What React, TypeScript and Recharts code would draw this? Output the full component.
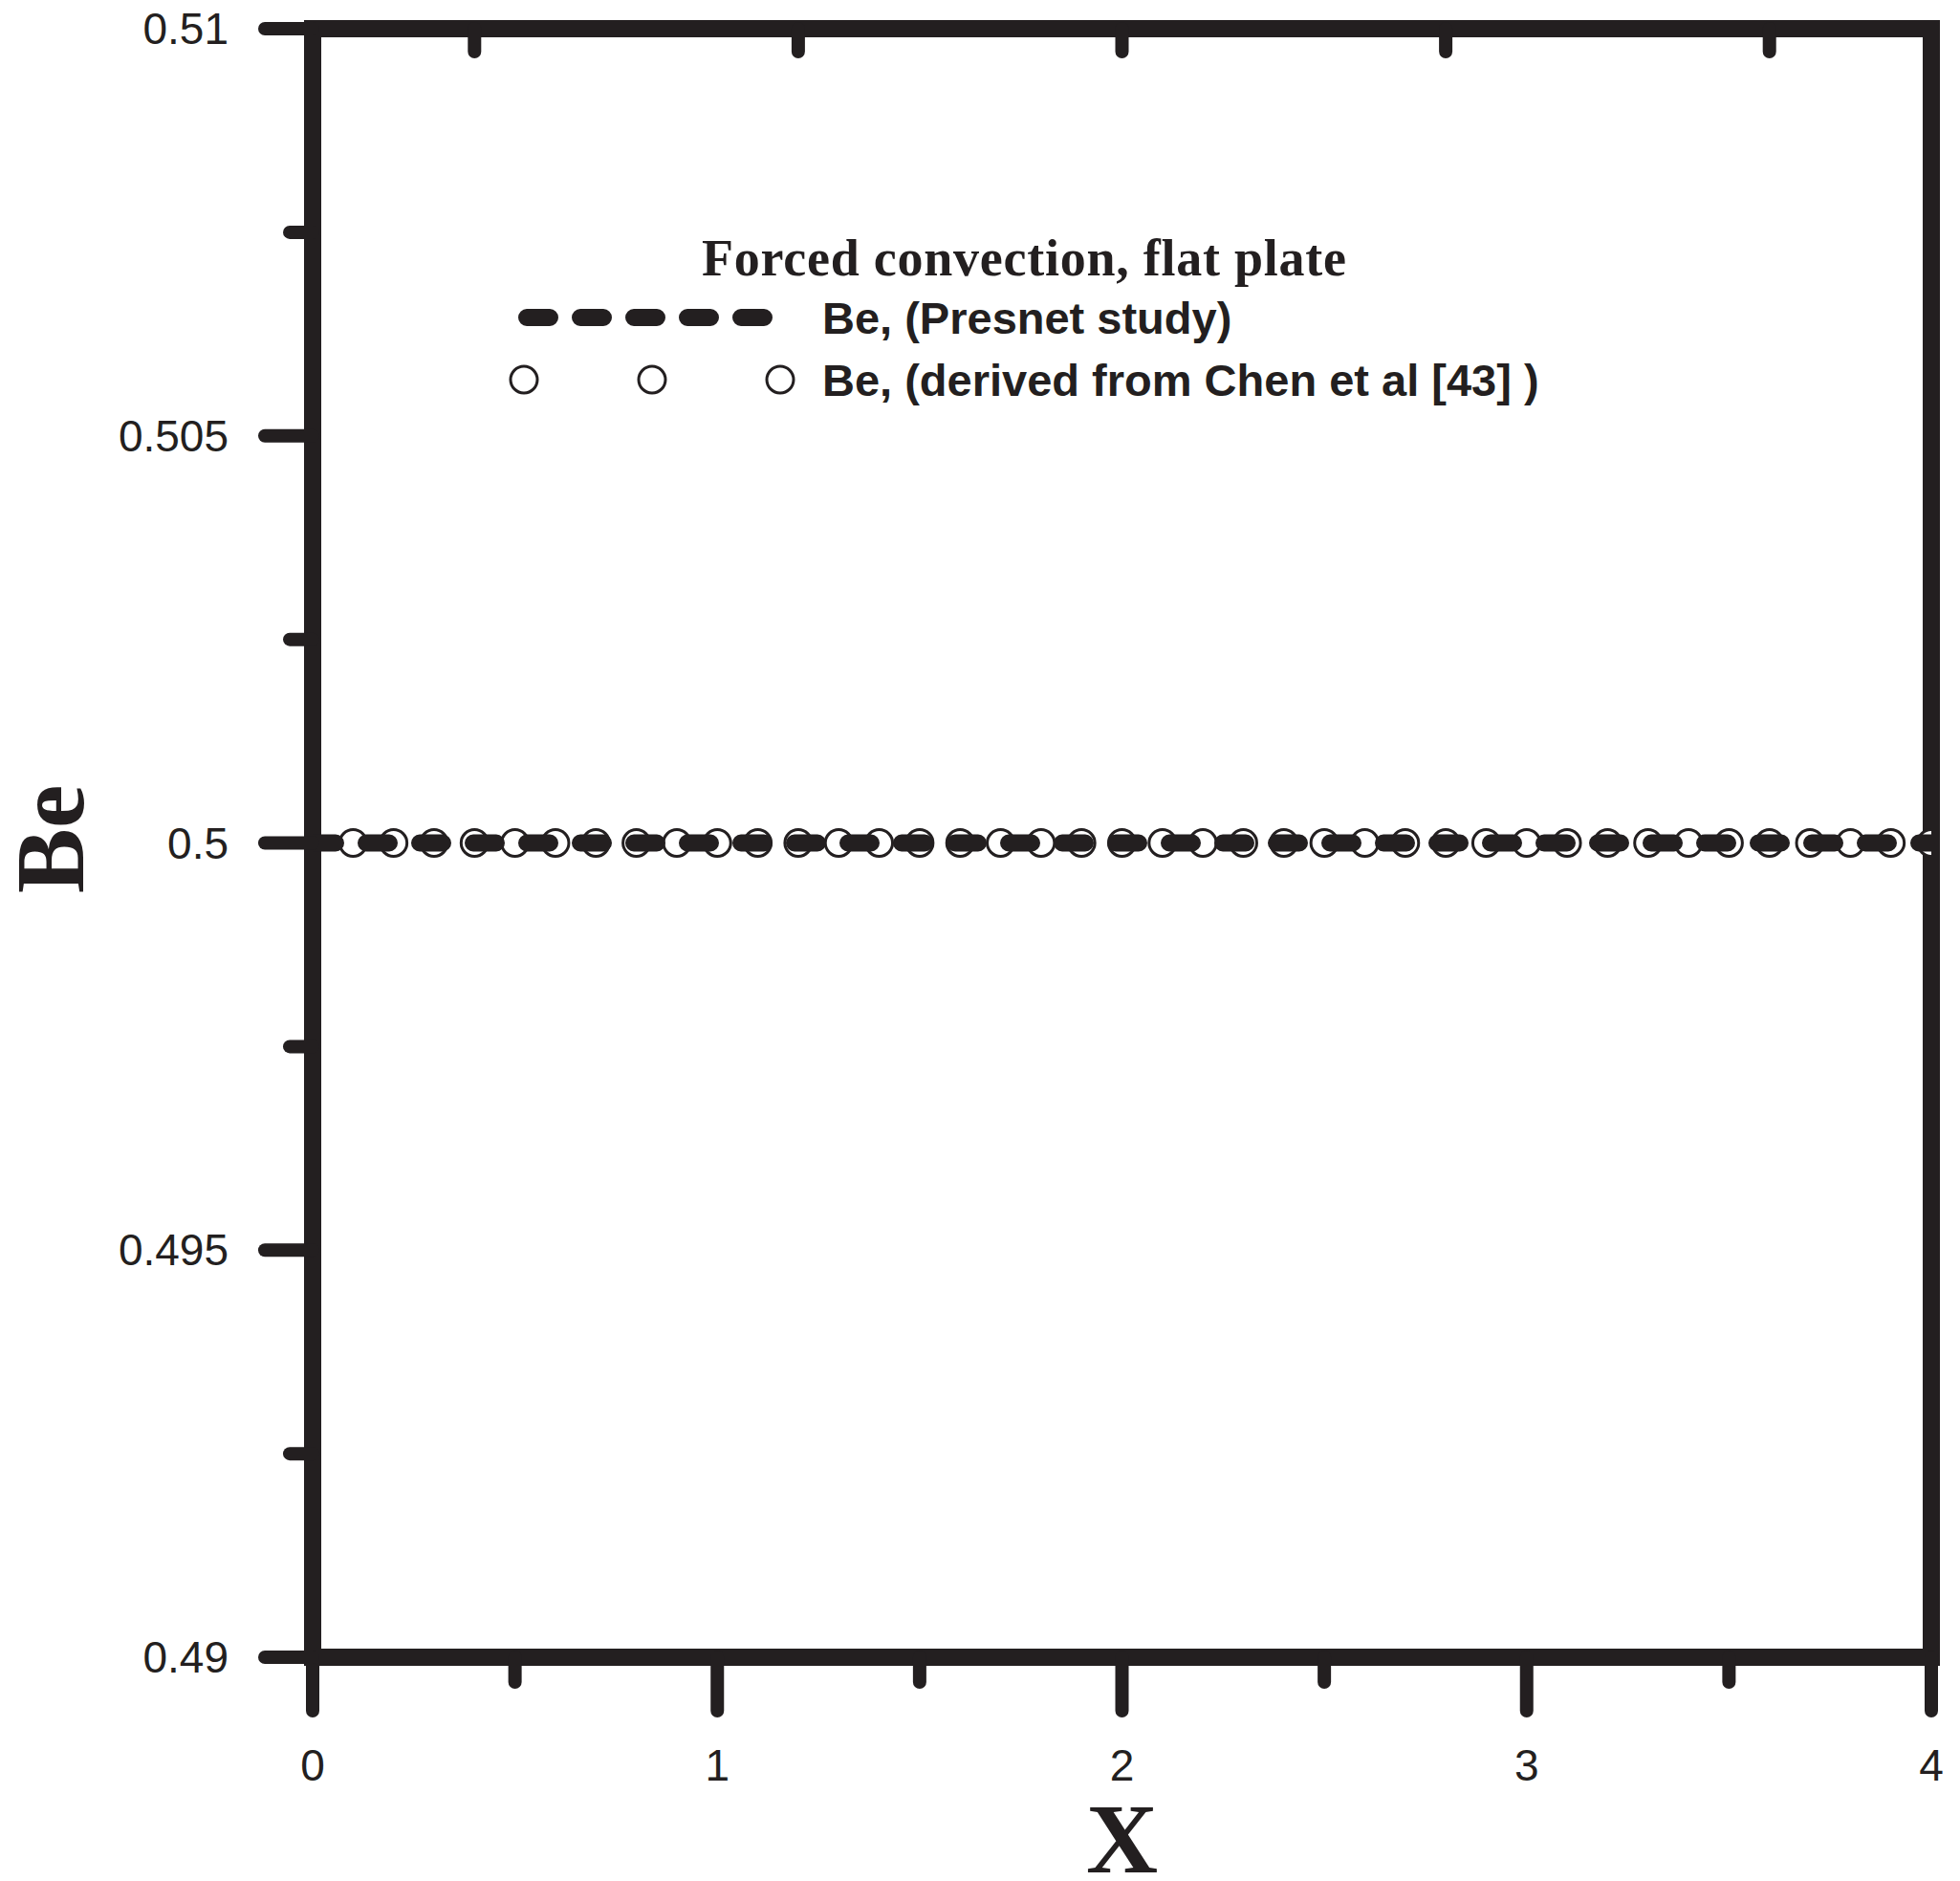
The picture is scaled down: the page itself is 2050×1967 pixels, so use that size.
import { ComposedChart, Line, Scatter, XAxis, YAxis, Legend } from "recharts";

const INK = "#231f20";
const SANS = "'Liberation Sans', Arial, sans-serif";
const SERIF = "'Liberation Serif', 'Times New Roman', serif";

// present study: flat line at Be = 0.5
const presentX = [0, 0.5, 1, 1.5, 2, 2.5, 3, 3.5, 4];
const presentBe = [0.5, 0.5, 0.5, 0.5, 0.5, 0.5, 0.5, 0.5, 0.5];

// derived from Chen et al [43]
const chenX = [
  0.1, 0.2, 0.3, 0.4, 0.5, 0.6, 0.7, 0.8, 0.9, 1.0,
  1.1, 1.2, 1.3, 1.4, 1.5, 1.6, 1.7, 1.8, 1.9, 2.0,
  2.1, 2.2, 2.3, 2.4, 2.5, 2.6, 2.7, 2.8, 2.9, 3.0,
  3.1, 3.2, 3.3, 3.4, 3.5, 3.6, 3.7, 3.8, 3.9, 4.0,
];
const chenBe = [
  0.5, 0.5, 0.5, 0.5, 0.5, 0.5, 0.5, 0.5, 0.5, 0.5,
  0.5, 0.5, 0.5, 0.5, 0.5, 0.5, 0.5, 0.5, 0.5, 0.5,
  0.5, 0.5, 0.5, 0.5, 0.5, 0.5, 0.5, 0.5, 0.5, 0.5,
  0.5, 0.5, 0.5, 0.5, 0.5, 0.5, 0.5, 0.5, 0.5, 0.5,
];

// ticks
const xMajor = [0, 1, 2, 3, 4];
const xMinor = [0.5, 1.5, 2.5, 3.5];
const xTop = [0.4, 1.2, 2, 2.8, 3.6];
const yMajor = [0.49, 0.495, 0.5, 0.505, 0.51];
const yMinor = [0.4925, 0.4975, 0.5025, 0.5075];

const presentRows = presentX.map((x, i) => ({ x, be: presentBe[i] }));
const chenRows = chenX.map((x, i) => ({ x, be: chenBe[i] }));

const BottomTick = (props: any) => {
  const { x, y, payload } = props;
  const major = xMajor.includes(payload.value);
  return (
    <g>
      <line x1={x} y1={y} x2={x} y2={y + (major ? 56 : 26)} stroke={INK} strokeWidth={14} strokeLinecap="round" />
      {major && (
        <text x={x} y={y + 129} textAnchor="middle" fontSize={46} fontFamily={SANS} fill={INK}>
          {payload.value}
        </text>
      )}
    </g>
  );
};

const TopTick = (props: any) => {
  const { x, y } = props;
  return <line x1={x} y1={y} x2={x} y2={y + 24} stroke={INK} strokeWidth={14} strokeLinecap="round" />;
};

const LeftTick = (props: any) => {
  const { x, y, payload } = props;
  const major = yMajor.includes(payload.value);
  return (
    <g>
      <line x1={x} y1={y} x2={x - (major ? 50 : 24)} y2={y} stroke={INK} strokeWidth={14} strokeLinecap="round" />
      {major && (
        <text x={x - 88} y={y + 16} textAnchor="end" fontSize={46} fontFamily={SANS} fill={INK}>
          {String(payload.value)}
        </text>
      )}
    </g>
  );
};

const XTitle = (props: any) => {
  const { viewBox } = props;
  return (
    <text
      x={viewBox.x + viewBox.width / 2}
      y={viewBox.y + 225}
      textAnchor="middle"
      fontSize={104}
      fontWeight="bold"
      fontFamily={SERIF}
      fill={INK}
    >
      X
    </text>
  );
};

const YTitle = (props: any) => {
  const { viewBox } = props;
  const cx = viewBox.x + 60;
  const cy = viewBox.y + viewBox.height / 2 - 4;
  return (
    <text
      x={cx}
      y={cy}
      transform={`rotate(-90, ${cx}, ${cy})`}
      textAnchor="middle"
      fontSize={102}
      fontWeight="bold"
      fontFamily={SERIF}
      fill={INK}
    >
      Be
    </text>
  );
};

const LegendBox = () => (
  <svg width={2034} height={450} style={{ display: "block" }}>
    <text
      x={1063}
      y={280}
      textAnchor="middle"
      fontSize={54}
      fontWeight="bold"
      fontFamily={SERIF}
      fill={INK}
      textLength={674}
      lengthAdjust="spacing"
    >
      Forced convection, flat plate
    </text>
    <line x1={543} y1={324} x2={791} y2={324} stroke={INK} strokeWidth={18} strokeDasharray="24 32" strokeLinecap="round" />
    <text x={852} y={341} fontSize={47} fontWeight="bold" fontFamily={SANS} fill={INK}>
      Be, (Presnet study)
    </text>
    {[540, 674, 808].map((cx) => (
      <circle key={cx} cx={cx} cy={389} r={14} fill="#fff" stroke={INK} strokeWidth={3} />
    ))}
    <text x={852} y={406} fontSize={47} fontWeight="bold" fontFamily={SANS} fill={INK}>
      Be, (derived from Chen et al [43] )
    </text>
  </svg>
);

const axisLine = { stroke: INK, strokeWidth: 18, strokeLinecap: "square" as const };

export default function App() {
  return (
    <div style={{ width: 2034, height: 1955, background: "#fff" }}>
      <ComposedChart width={2034} height={1955} margin={{ top: 12, right: 20, bottom: 26, left: 19 }}>
        <XAxis
          dataKey="x"
          type="number"
          domain={[0, 4]}
          ticks={[...xMajor, ...xMinor]}
          interval={0}
          allowDataOverflow
          height={204}
          tickSize={0}
          tickMargin={0}
          tickLine={false}
          tick={BottomTick}
          axisLine={axisLine}
          label={{ content: XTitle }}
        />
        <XAxis
          xAxisId="top"
          dataKey="x"
          orientation="top"
          type="number"
          domain={[0, 4]}
          ticks={xTop}
          interval={0}
          allowDataOverflow
          height={10}
          tickSize={0}
          tickMargin={0}
          tickLine={false}
          tick={TopTick}
          axisLine={axisLine}
        />
        <YAxis
          type="number"
          domain={[0.49, 0.51]}
          ticks={[...yMajor, ...yMinor]}
          interval={0}
          allowDataOverflow
          width={300}
          tickSize={0}
          tickMargin={0}
          tickLine={false}
          tick={LeftTick}
          axisLine={axisLine}
          label={{ content: YTitle }}
        />
        <YAxis
          yAxisId="right"
          orientation="right"
          type="number"
          domain={[0.49, 0.51]}
          allowDataOverflow
          width={2}
          tick={false}
          tickLine={false}
          axisLine={axisLine}
        />
        <Legend
          layout="horizontal"
          verticalAlign="middle"
          align="center"
          content={LegendBox}
          wrapperStyle={{ position: "absolute", left: 0, top: 0, width: 2034, height: 450 }}
        />
        <Scatter
          data={chenRows}
          dataKey="be"
          isAnimationActive={false}
          shape={(p: any) => <circle cx={p.cx} cy={p.cy} r={14} fill="#fff" stroke={INK} strokeWidth={3} />}
        />
        <Line
          xAxisId="top"
          data={presentRows}
          dataKey="be"
          type="linear"
          stroke={INK}
          strokeWidth={18}
          strokeDasharray="24 32"
          strokeLinecap="round"
          dot={false}
          activeDot={false}
          zIndex={700}
          isAnimationActive={false}
        />
      </ComposedChart>
    </div>
  );
}
